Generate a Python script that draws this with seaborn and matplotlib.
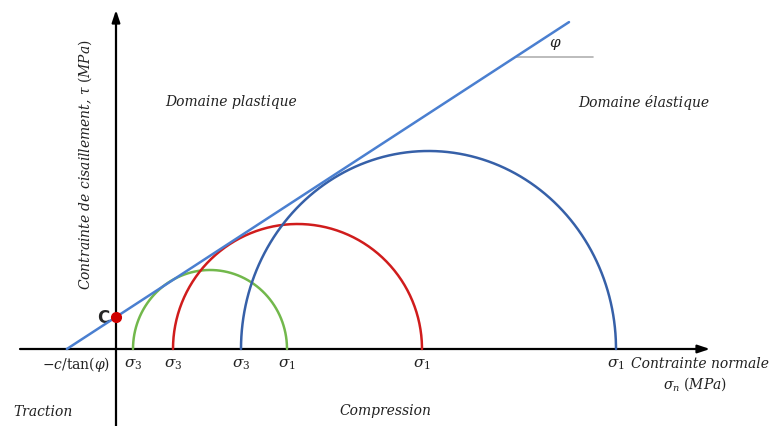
import numpy as np
import pandas as pd
import matplotlib
matplotlib.use("Agg")
import matplotlib.pyplot as plt
import seaborn as sns

# Mohr circles (sigma3, sigma1, height of the half-circle as drawn)
circle_names = ["petit", "moyen", "grand"]
sigma3 = [1.7, 5.7, 12.5]
sigma1 = [17.1, 30.6, 50.0]
tau_top = [7.9, 12.5, 19.8]
circle_colors = ["#72b84c", "#d01c1c", "#3660a8"]

# Mohr-Coulomb envelope
cohesion = 3.2
tan_phi = 0.651
sigma_end = 45.3

sns.set_theme(style="white")
plt.rcParams["font.family"] = ["DejaVu Serif"]
plt.rcParams["mathtext.fontset"] = "dejavuserif"
txt_color = "#222222"

fig = plt.figure(figsize=(7.71, 4.26), dpi=100)
ax = fig.add_axes([0, 0, 1, 1])
ax.set_xlim(-11.6, 65.5)
ax.set_ylim(-7.7, 34.9)
ax.axis("off")

# half circles
t = np.linspace(0, np.pi, 200)
rows = []
for name, s3, s1, h in zip(circle_names, sigma3, sigma1, tau_top):
    c, r = (s1 + s3) / 2, (s1 - s3) / 2
    for tt in t:
        rows.append({"cercle": name, "sigma": c - r * np.cos(tt), "tau": h * np.sin(tt)})
circles = pd.DataFrame(rows)
sns.lineplot(data=circles, x="sigma", y="tau", hue="cercle", palette=circle_colors,
             sort=False, estimator=None, lw=1.8, legend=False, ax=ax, zorder=3)

# envelope
env = pd.DataFrame({"sigma": [-cohesion / tan_phi, sigma_end]})
env["tau"] = cohesion + tan_phi * env["sigma"]
sns.lineplot(data=env, x="sigma", y="tau", color="#4a7fd0", lw=1.8, ax=ax, zorder=4)

# angle phi
x_phi = 40.0
ax.plot([x_phi, x_phi + 7.7], [cohesion + tan_phi * x_phi] * 2, color="#b0b0b0", lw=1.2)
ax.text(43.9, 30.4, r"$\varphi$", fontsize=11, color=txt_color, ha="center", va="center")

# axes arrows
arrow = dict(arrowstyle="-|>,head_length=0.6,head_width=0.2", color="black", lw=1.6,
             shrinkA=0, shrinkB=0)
ax.annotate("", xy=(59.4, 0), xytext=(-9.6, 0), arrowprops=arrow, zorder=2)
ax.annotate("", xy=(0, 33.9), xytext=(0, -7.8), arrowprops=arrow, zorder=2)

# cohesion point
ax.plot(0, cohesion, "o", color="#d00000", ms=7, zorder=5)
ax.text(-1.3, cohesion - 0.1, "C", fontsize=12, fontweight="bold", family="DejaVu Sans",
        ha="center", va="center")

# labels on the normal axis
ax.text(-4.0, -1.6, r"$-c/\tan(\varphi)$", fontsize=10, color=txt_color, ha="center", va="center")
for s3 in sigma3:
    ax.text(s3, -1.6, r"$\sigma_3$", fontsize=11, color=txt_color, ha="center", va="center")
for s1 in sigma1:
    ax.text(s1, -1.6, r"$\sigma_1$", fontsize=11, color=txt_color, ha="center", va="center")

ax.text(65.3, -1.5, "Contrainte normale", fontsize=10, style="italic", color=txt_color,
        ha="right", va="center")
ax.text(57.9, -3.5, r"$\sigma_n\ (MPa)$", fontsize=10, color=txt_color, ha="center", va="center")
ax.text(-7.3, -6.3, "Traction", fontsize=10, style="italic", color=txt_color, ha="center", va="center")
ax.text(26.9, -6.2, "Compression", fontsize=10, style="italic", color=txt_color, ha="center", va="center")
ax.text(11.5, 24.7, "Domaine plastique", fontsize=10, style="italic", color=txt_color,
        ha="center", va="center")
ax.text(52.8, 24.7, "Domaine élastique", fontsize=10, style="italic", color=txt_color,
        ha="center", va="center")
ax.text(-3.1, 18.4, r"Contrainte de cisaillement, $\tau$ $(MPa)$", fontsize=10, style="italic",
        color=txt_color, rotation=90, ha="center", va="center")

fig.savefig("out.png", dpi=100)
